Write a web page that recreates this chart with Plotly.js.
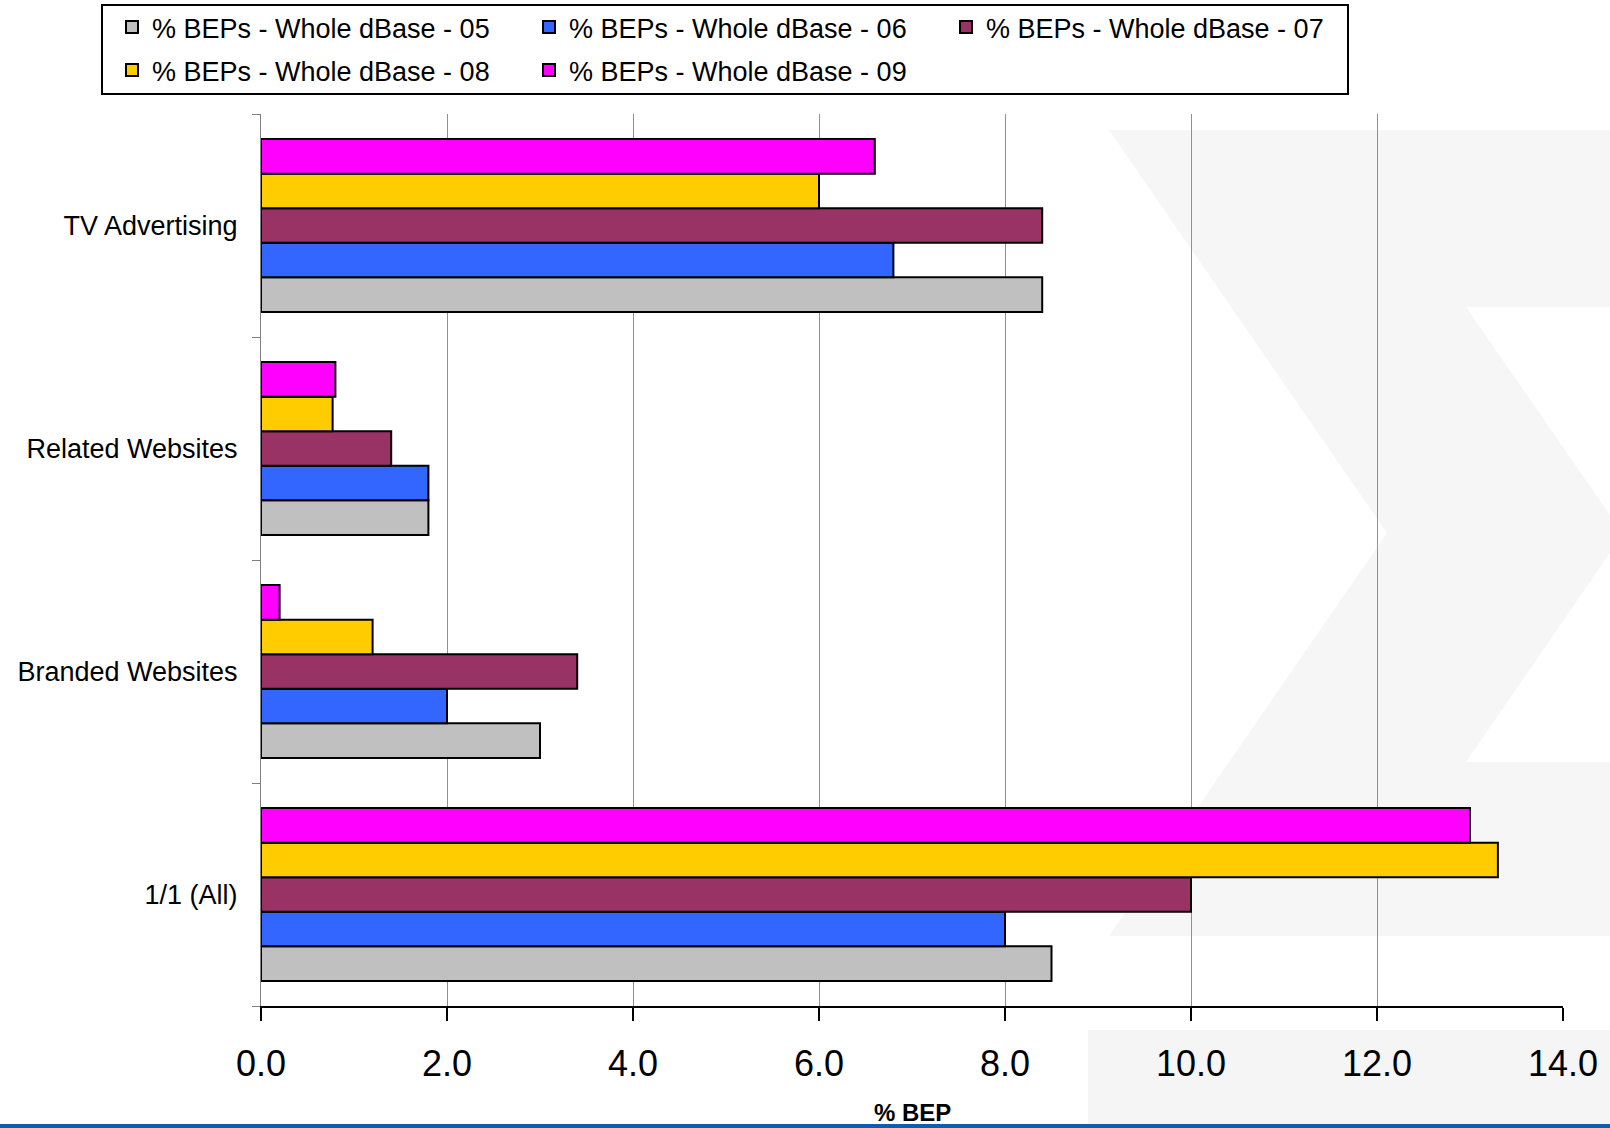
<!DOCTYPE html>
<html>
<head>
<meta charset="utf-8">
<script src="https://cdn.plot.ly/plotly-3.0.1.min.js"></script>
<style>
  html, body { margin: 0; padding: 0; background: #ffffff; }
  #chart { width: 1610px; height: 1128px; }
</style>
</head>
<body>
<div id="chart"></div>
<script>
// Channels, listed bottom to top on the category axis
const categories = ['1/1 (All)', 'Branded Websites', 'Related Websites', 'TV Advertising'];

// % BEP per channel, one array per database year
const bep05 = [8.5, 3.0, 1.8, 8.4];
const bep06 = [8.0, 2.0, 1.8, 6.8];
const bep07 = [10.0, 3.4, 1.4, 8.4];
const bep08 = [13.3, 1.2, 0.77, 6.0];
const bep09 = [13.0, 0.2, 0.8, 6.6];

const seriesNames = [
  '% BEPs - Whole dBase - 05',
  '% BEPs - Whole dBase - 06',
  '% BEPs - Whole dBase - 07',
  '% BEPs - Whole dBase - 08',
  '% BEPs - Whole dBase - 09'
];
const seriesValues = [bep05, bep06, bep07, bep08, bep09];
const seriesColors = ['#C0C0C0', '#3366FF', '#993366', '#FFCC00', '#FF00FF'];
const seriesLegend = ['legend', 'legend', 'legend', 'legend2', 'legend2'];

const xTicks = [0, 2, 4, 6, 8, 10, 12, 14];
const xTitle = '% BEP';

const FONT = 'Liberation Sans, Arial, sans-serif';

// Page geometry (pixels)
const W = 1610, H = 1128;
const M = { l: 261, r: 47, t: 114, b: 122 };
const PW = W - M.l - M.r, PH = H - M.t - M.b;
const px = x => (x - M.l) / PW;
const py = y => (H - M.b - y) / PH;

const traces = seriesNames.map((name, i) => ({
  type: 'bar',
  orientation: 'h',
  name: name,
  x: seriesValues[i],
  y: categories,
  legend: seriesLegend[i],
  marker: { color: seriesColors[i], line: { color: '#000000', width: 2 } },
  hovertemplate: '%{y}: %{x:.1f}<extra>' + name + '</extra>'
}));

// Backdrop chevron emblem drawn behind the bars
const chevron = [
  [1109, 130], [1610, 130], [1610, 307], [1466, 307], [1623, 534],
  [1466, 762], [1610, 762], [1610, 936], [1109, 936], [1387, 533]
];
const chevronPath = chevron.map((p, i) => (i ? 'L' : 'M') + px(p[0]).toFixed(5) + ',' + py(p[1]).toFixed(5)).join(' ') + ' Z';

const shapes = [
  { type: 'path', xref: 'paper', yref: 'paper', path: chevronPath,
    fillcolor: '#f6f6f6', line: { width: 0 }, layer: 'below' },
  { type: 'rect', xref: 'paper', yref: 'paper',
    x0: px(1088), x1: px(1610), y0: py(1030), y1: py(1124),
    fillcolor: '#f5f5f5', line: { width: 0 }, layer: 'below' },
  { type: 'rect', xref: 'paper', yref: 'paper',
    x0: px(0), x1: px(1610), y0: py(1124), y1: py(1128),
    fillcolor: '#0a5fb4', line: { width: 0 }, layer: 'below' },
  // legend frame
  { type: 'rect', xref: 'paper', yref: 'paper',
    x0: px(102), x1: px(1348), y0: py(5), y1: py(94),
    fillcolor: 'rgba(0,0,0,0)', line: { color: '#000000', width: 2 }, layer: 'above' }
];

// Axis caption sits low on the page, just above the footer band
const annotations = [
  { xref: 'paper', yref: 'paper', x: 0.5, y: py(1112),
    xanchor: 'center', yanchor: 'middle', showarrow: false,
    text: '<b>' + xTitle + '</b>',
    font: { family: FONT, size: 24, color: '#000000' } }
];

const legendBase = {
  orientation: 'h',
  xref: 'paper', yref: 'paper',
  xanchor: 'left', yanchor: 'top',
  x: px(112),
  bgcolor: 'rgba(0,0,0,0)',
  borderwidth: 0,
  entrywidth: 372,
  entrywidthmode: 'pixels',
  font: { family: FONT, size: 27, color: '#000000' },
  traceorder: 'normal'
};

const layout = {
  width: W, height: H,
  margin: { l: M.l, r: M.r, t: M.t, b: M.b, pad: 0, autoexpand: false },
  paper_bgcolor: '#ffffff',
  plot_bgcolor: 'rgba(0,0,0,0)',
  barmode: 'group',
  bargap: 0.225,
  bargroupgap: 0,
  showlegend: true,
  legend: Object.assign({}, legendBase, { y: py(3) }),
  legend2: Object.assign({}, legendBase, { y: py(46) }),
  font: { family: FONT, color: '#000000' },
  xaxis: {
    range: [0, 14],
    tickvals: xTicks,
    tickformat: '.1f',
    showgrid: true,
    gridcolor: '#909090',
    gridwidth: 1,
    zeroline: false,
    showline: true,
    linecolor: '#000000',
    linewidth: 2,
    ticks: 'outside',
    ticklen: 13,
    tickwidth: 1.5,
    tickcolor: '#000000',
    ticklabelstandoff: 12,
    tickfont: { family: FONT, size: 36, color: '#000000' },
    automargin: false,
    fixedrange: true
  },
  yaxis: {
    type: 'category',
    categoryorder: 'array',
    categoryarray: categories,
    range: [-0.5, 3.5],
    showgrid: false,
    zeroline: false,
    showline: true,
    linecolor: '#808080',
    linewidth: 1,
    ticks: 'outside',
    tickson: 'boundaries',
    ticklen: 8,
    tickwidth: 1,
    tickcolor: '#808080',
    ticklabelstandoff: 17,
    tickfont: { family: FONT, size: 27, color: '#000000' },
    automargin: false,
    fixedrange: true
  },
  shapes: shapes,
  annotations: annotations
};

Plotly.newPlot('chart', traces, layout, { displayModeBar: false, responsive: false });
</script>
</body>
</html>
